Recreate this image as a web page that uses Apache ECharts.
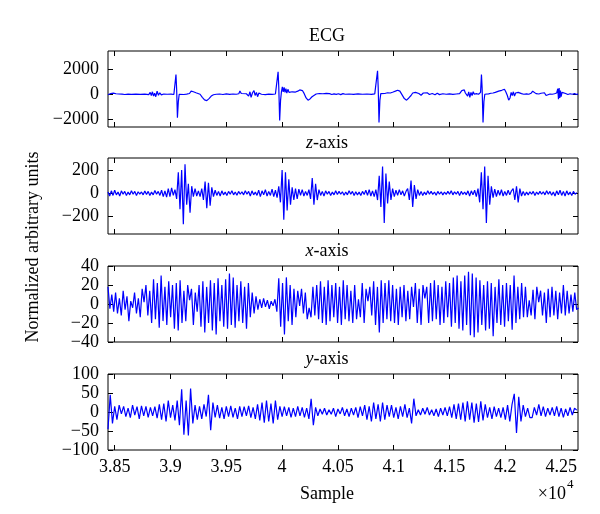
<!DOCTYPE html>
<html><head><meta charset="utf-8">
<script src="https://cdn.jsdelivr.net/npm/echarts@6/dist/echarts.min.js"></script>
<style>html,body{margin:0;padding:0;background:#fff}#c{width:600px;height:514px}</style>
</head><body><div id="c"></div>
<script>
// ---------- data ----------
const panelTitles = ['ECG', '{i|z}-axis', '{i|x}-axis', '{i|y}-axis'];
const xTickValues = [38500, 39000, 39500, 40000, 40500, 41000, 41500, 42000, 42500];
const ecgTicks = [-2000, 0, 2000];
const zTicks = [-200, 0, 200];
const xSigTicks = [-40, -20, 0, 20, 40];
const ySigTicks = [-100, -50, 0, 50, 100];

// ECG: [sample, value]
const ecgPoints = [
[38440,-40],[38452,120],[38464,60],[38476,180],[38488,90],[38500,160],[38512,40],[38524,130],[38536,20],[38550,-90],
[38565,10],[38590,-20],[38620,10],[38650,-10],[38690,5],[38730,-15],[38770,10],[38805,-30],[38818,150],[38828,-100],
[38838,200],[38848,-150],[38858,80],[38868,-200],[38880,250],[38892,-80],[38904,120],[38918,-50],[38940,20],[38970,0],
[39005,10],[39030,-20],[39042,100],[39049,1590],[39055,400],[39062,-1900],[39070,-600],[39078,0],[39095,-40],[39120,-20],
[39145,10],[39170,60],[39185,250],[39195,320],[39205,200],[39215,280],[39228,120],[39245,80],[39265,0],[39285,-250],
[39305,-460],[39325,-520],[39345,-350],[39365,-150],[39385,-40],[39410,0],[39440,20],[39470,-20],[39500,30],[39530,-10],
[39560,20],[39590,0],[39612,40],[39622,260],[39634,60],[39650,0],[39680,40],[39700,-150],[39712,200],[39722,-250],
[39735,120],[39748,300],[39758,-100],[39770,150],[39780,-200],[39792,100],[39805,250],[39815,0],[39830,80],[39850,-30],
[39880,10],[39910,-10],[39940,20],[39955,150],[39964,1810],[39970,600],[39978,-2130],[39986,-500],[39994,200],[40002,600],
[40010,200],[40018,550],[40026,150],[40034,450],[40042,100],[40052,400],[40062,150],[40075,300],[40090,200],[40105,250],
[40120,180],[40140,250],[40158,350],[40170,420],[40182,300],[40198,50],[40215,-300],[40232,-480],[40250,-380],[40268,-200],
[40285,-60],[40305,20],[40320,-40],[40335,60],[40350,-70],[40365,40],[40380,-50],[40395,70],[40410,-30],[40425,50],
[40445,-20],[40465,30],[40485,-10],[40505,40],[40525,-30],[40545,50],[40565,0],[40600,20],[40640,-10],[40680,30],
[40720,0],[40760,20],[40800,-10],[40830,30],[40845,150],[40855,1900],[40861,500],[40868,-2290],[40876,-500],[40884,50],
[40900,0],[40920,60],[40945,120],[40970,100],[40995,180],[41015,250],[41035,330],[41055,250],[41075,-50],[41095,-350],
[41115,-480],[41135,-300],[41155,-100],[41170,100],[41182,-50],[41195,150],[41210,0],[41225,60],[41245,-80],[41265,100],
[41280,30],[41300,120],[41320,-20],[41345,60],[41370,-40],[41390,80],[41410,-30],[41440,40],[41470,0],[41500,30],
[41530,-10],[41560,20],[41590,50],[41610,300],[41622,150],[41632,350],[41642,100],[41652,250],[41662,-150],[41672,200],
[41682,-250],[41692,150],[41702,-100],[41712,200],[41722,0],[41740,50],[41760,0],[41778,150],[41786,1590],[41792,500],
[41800,-2290],[41808,-600],[41816,0],[41830,-50],[41850,30],[41870,80],[41890,100],[41910,150],[41925,100],[41940,250],
[41955,200],[41968,320],[41980,220],[41992,410],[42004,200],[42018,-100],[42030,-480],[42042,-300],[42052,150],[42062,-100],
[42072,200],[42082,-150],[42092,100],[42102,-50],[42115,150],[42128,20],[42145,50],[42165,0],[42190,30],[42210,0],
[42230,80],[42245,250],[42260,150],[42275,50],[42300,20],[42320,80],[42335,-60],[42350,120],[42365,-100],[42380,30],
[42400,20],[42420,0],[42440,40],[42460,100],[42470,450],[42476,-400],[42482,500],[42488,-300],[42494,300],[42500,-200],
[42508,150],[42520,0],[42540,60],[42560,-20],[42580,40],[42600,0],[42620,50],[42640,-20],[42651,30]
];

// z-axis: uniform sampling
const zStart = 38440, zStep = 15;
const zValues = [
10,-25,20,-20,25,-15,10,-25,20,-10,
15,-20,10,-15,20,-10,15,-20,12,-8,
10,-15,18,-12,15,-20,10,-15,22,-10,
15,-20,25,-30,20,-35,40,-30,45,-20,
30,-50,180,-140,200,-270,250,-100,80,-170,
60,-30,40,-25,20,-30,40,-60,100,-130,
90,-110,50,-30,25,-20,15,-25,20,-15,
10,-20,15,-10,20,-15,10,-18,15,-10,
12,-15,20,-10,15,-25,20,-15,10,-20,
25,-30,20,-15,30,-25,15,-20,35,-30,
25,-40,60,-80,200,-230,180,-150,120,-100,
50,-60,40,-50,35,-20,30,-25,15,-20,
30,-50,130,-100,80,-60,30,-20,15,-25,
20,-10,15,-20,10,-15,20,-12,15,-10,
12,-18,10,-15,20,-10,15,-20,12,-15,
10,-20,15,-12,25,-20,30,-25,20,-30,
30,-60,150,-120,230,-260,170,-90,100,-60,
40,-30,25,-20,30,-15,20,-25,15,40,
-60,110,-120,70,-50,30,-20,15,-20,10,
-15,20,-10,15,-12,10,-18,15,-10,12,
-15,10,-12,15,-10,20,-15,12,-10,15,
-20,15,-12,10,-15,20,-25,20,-15,25,
-30,40,-80,180,-140,230,-260,150,-100,60,
-40,35,-30,25,-20,30,-25,15,-20,25,
-15,20,40,-60,60,-80,40,-25,15,-20,
10,-15,12,-10,15,-20,10,-12,15,-10,
12,-15,20,-10,15,-18,10,-25,20,-15,
25,-20,15,-25,20,-15,10,-20,15,-10,5
];

// x-axis: uniform sampling
const xStart = 38440, xStep = 17;
const xValues = [
18,-5,10,-8,12,-10,6,-12,14,-6,
8,-18,3,-4,12,-10,6,-14,16,2,
20,-12,14,-20,26,-16,22,-25,30,-18,
18,-22,24,-14,20,-26,22,-28,25,-20,
14,-18,20,4,16,-22,12,-8,20,-24,
24,-30,18,-20,25,-28,22,-32,27,-18,
20,-24,26,-26,32,-22,28,-25,20,-18,
24,-20,18,-26,22,-14,12,-10,8,-6,
5,-4,6,-3,4,-5,3,-2,5,-8,
27,-24,22,-32,28,-18,20,-22,16,-14,
14,-2,16,-10,12,-16,-4,-14,18,-12,
20,-16,24,-20,18,-22,25,-18,20,-14,
22,-20,18,-22,25,-16,20,-18,14,-20,
20,-16,5,-14,22,-20,16,3,18,-12,
24,-22,18,-30,25,-20,22,-16,25,-18,
20,-20,16,-22,18,-14,20,-18,14,-16,
18,-3,22,-20,16,-22,20,6,18,-20,
22,-18,25,-16,20,-22,18,-20,24,-14,
22,-24,28,-20,30,-26,24,-28,30,-22,
34,-33,32,-35,28,-30,25,-22,20,-28,
24,-26,22,-34,18,-20,26,-22,20,-24,
22,-18,20,-27,30,-20,18,-16,22,-14,
18,-14,4,-12,15,-16,18,2,14,-12,
12,-20,16,-14,18,-12,14,-16,12,-10,
20,-12,14,-10,10,-8,12,-6,-4
];

// y-axis: uniform sampling
const yStart = 38440, yStep = 20;
const yValues = [
-45,45,-30,15,-20,18,-5,15,-12,10,
-15,18,-8,14,-18,16,-10,15,-14,12,
-10,14,-16,20,-20,22,-25,30,-15,18,
-22,30,-35,60,-60,30,-62,62,-30,18,
-20,15,-18,20,-12,45,-48,25,-14,18,
-16,12,-18,15,-12,16,-14,10,-18,15,
-12,14,-10,16,-15,12,-18,20,-22,25,
-28,30,-25,22,-30,30,-20,15,-12,14,
-10,12,-14,10,-12,15,-10,12,-14,10,
-18,35,-35,12,-10,8,-6,10,-8,6,
-6,10,-12,8,-5,12,-10,8,-12,10,
-8,12,-15,14,-10,18,-20,15,-25,25,
-18,20,-25,25,-20,18,-12,18,-15,12,
-18,15,-12,20,-15,10,-30,35,-10,6,
-8,10,-6,12,-8,6,-10,8,-12,10,
-8,12,-10,14,-15,20,-18,22,-20,25,
-25,28,-20,25,-28,22,-26,28,-22,20,
-15,12,-18,14,-12,10,-15,12,-20,18,
-25,20,48,-55,40,-25,18,-12,10,-15,
-15,12,-8,20,-10,14,-12,10,-8,12,
-10,15,-12,10,-14,8,-10,12,-8,10,
5
];

// ---------- chart ----------
const FONT = '"Liberation Serif", "DejaVu Serif", serif';
const FS = 18;
const SAMPLE_MIN = 38440, SAMPLE_MAX = 42651;
const L = 108, W = 470;
const tops = [51, 158, 266, 374];
const H = 76;
const titleX = 327;

const yRanges = [
  {min: -2650, max: 3500, ticks: ecgTicks},
  {min: -355, max: 305, ticks: zTicks},
  {min: -40, max: 40, ticks: xSigTicks},
  {min: -100, max: 100, ticks: ySigTicks}
];

const toPairs = (start, step, vals) => vals.map((v, i) => [start + i * step, v]);
const seriesData = [
  ecgPoints,
  toPairs(zStart, zStep, zValues),
  toPairs(xStart, xStep, xValues),
  toPairs(yStart, yStep, yValues)
];

const minus = v => String(v).replace('-', '\u2212');

const grid = [], xAxis = [], yAxis = [], series = [], graphic = [];
for (let k = 0; k < 4; k++) {
  grid.push({left: L, width: W, top: tops[k], height: H, show: true, borderColor: '#000', borderWidth: 1, backgroundColor: 'transparent'});
  const isBottom = k === 3;
  const tickCommon = {show: true, inside: true, length: 5, lineStyle: {color: '#000', width: 1}, customValues: xTickValues};
  xAxis.push({
    type: 'value', gridIndex: k, position: 'bottom', min: SAMPLE_MIN, max: SAMPLE_MAX,
    axisLine: {show: false, onZero: false}, splitLine: {show: false},
    axisTick: tickCommon,
    axisLabel: {show: isBottom, customValues: xTickValues, formatter: v => String(+(v / 10000).toFixed(2)),
      fontFamily: FONT, fontSize: FS, color: '#000', margin: 8, showMinLabel: true, showMaxLabel: true, hideOverlap: false}
  });
  xAxis.push({
    type: 'value', gridIndex: k, position: 'top', min: SAMPLE_MIN, max: SAMPLE_MAX,
    axisLine: {show: false, onZero: false}, splitLine: {show: false},
    axisTick: tickCommon, axisLabel: {show: false}
  });
  const r = yRanges[k];
  const yBase = {type: 'value', gridIndex: k, min: r.min, max: r.max,
    axisLine: {show: false, onZero: false}, splitLine: {show: false}};
  const yTick = {show: true, inside: true, length: 5, lineStyle: {color: '#000', width: 1}, customValues: r.ticks};
  const yLab = {fontFamily: FONT, fontSize: FS, color: '#000', margin: 9, formatter: minus,
    customValues: r.ticks, showMinLabel: true, showMaxLabel: true, hideOverlap: false};
  yAxis.push(Object.assign({}, yBase, {position: 'left', axisTick: yTick, axisLabel: yLab}));
  yAxis.push(Object.assign({}, yBase, {position: 'right', axisTick: yTick, axisLabel: {show: false}}));
  series.push({
    type: 'line', xAxisIndex: 2 * k, yAxisIndex: 2 * k, data: seriesData[k],
    showSymbol: false, symbol: 'none', clip: true,
    lineStyle: {color: '#0000ff', width: 1.2}, itemStyle: {color: '#0000ff'}, animation: false
  });
  graphic.push({
    type: 'text', x: titleX, y: tops[k] - 15,
    style: {text: panelTitles[k], font: FS + 'px ' + FONT, fill: '#000', align: 'center', verticalAlign: 'middle',
      rich: {i: {fontStyle: 'italic', fontFamily: FONT, fontSize: FS, fill: '#000'}}}
  });
}
graphic.push({type: 'text', x: titleX, y: 494,
  style: {text: 'Sample', font: FS + 'px ' + FONT, fill: '#000', align: 'center', verticalAlign: 'middle'}});
graphic.push({type: 'text', x: 566, y: 494,
  style: {text: '\u00d710', font: FS + 'px ' + FONT, fill: '#000', align: 'right', verticalAlign: 'middle'}});
graphic.push({type: 'text', x: 567, y: 485,
  style: {text: '4', font: '13px ' + FONT, fill: '#000', align: 'left', verticalAlign: 'middle'}});
graphic.push({type: 'text', x: 33, y: 247, rotation: Math.PI / 2,
  style: {text: 'Normalized arbitrary units', font: FS + 'px ' + FONT, fill: '#000', align: 'center', verticalAlign: 'middle'}});

const chart = echarts.init(document.getElementById('c'), null, {renderer: 'canvas'});
chart.setOption({animation: false, backgroundColor: '#fff', grid, xAxis, yAxis, series, graphic});
</script>
</body></html>
